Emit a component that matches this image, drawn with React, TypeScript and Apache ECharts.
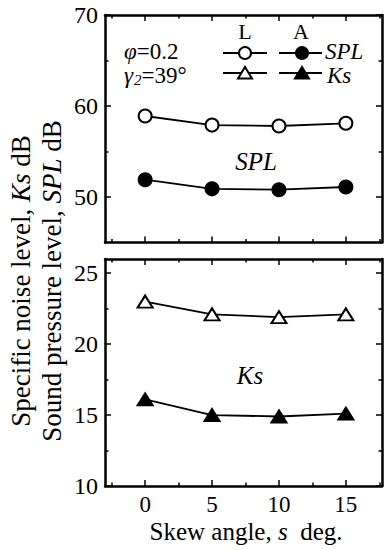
import React, { useEffect, useRef } from "react";
import * as echarts from "echarts";

const skewAngles = [0, 5, 10, 15];
const splL = [58.9, 57.9, 57.8, 58.1];
const splA = [51.9, 50.9, 50.8, 51.1];
const ksL = [23.0, 22.1, 21.9, 22.1];
const ksA = [16.1, 15.0, 14.9, 15.1];

const xMajorTicks = [0, 5, 10, 15];
const xMinorTicks = [-2.5, 2.5, 7.5, 12.5, 17.5];
const splMajorTicks = [50, 60, 70];
const splMinorTicks = [55, 65];
const ksMajorTicks = [10, 15, 20, 25];
const ksMinorTicks = [12.5, 17.5, 22.5];

const FONT = "Liberation Serif";

export default function App() {
  const ref = useRef<HTMLDivElement>(null);
  useEffect(() => {
    if (!ref.current) return;
    const chart = echarts.init(ref.current, null, { renderer: "svg" });
    const AXW = 2.5;
    const TW = 1.5;

    const xAxes: any[] = [];
    const yAxes: any[] = [];
    const grids = [
      { left: 105, top: 15, width: 277, height: 227.5 },
      { left: 105, top: 259, width: 277, height: 227 },
    ];
    const yRanges = [
      { min: 45, max: 70, major: splMajorTicks, minor: splMinorTicks },
      { min: 10, max: 26, major: ksMajorTicks, minor: ksMinorTicks },
    ];

    const mkX = (g: number, position: string, major: boolean, labels: boolean, line: boolean) => ({
      type: "value",
      gridIndex: g,
      position,
      min: -3,
      max: 17.7,
      axisLine: { show: line, onZero: false, lineStyle: { color: "#000", width: AXW } },
      axisTick: {
        show: true,
        inside: true,
        length: major ? 6 : 3.5,
        customValues: major ? xMajorTicks : xMinorTicks,
        lineStyle: { color: "#000", width: TW },
      },
      axisLabel: labels
        ? { show: true, customValues: xMajorTicks, fontFamily: FONT, fontSize: 23, color: "#000", margin: 7 }
        : { show: false },
      splitLine: { show: false },
    });
    const mkY = (g: number, position: string, major: boolean, labels: boolean, line: boolean) => ({
      type: "value",
      gridIndex: g,
      position,
      min: yRanges[g].min,
      max: yRanges[g].max,
      axisLine: { show: line, onZero: false, lineStyle: { color: "#000", width: AXW } },
      axisTick: {
        show: true,
        inside: true,
        length: major ? 6 : 3.5,
        customValues: major ? yRanges[g].major : yRanges[g].minor,
        lineStyle: { color: "#000", width: TW },
      },
      axisLabel: labels
        ? { show: true, customValues: yRanges[g].major, fontFamily: FONT, fontSize: 24, color: "#000", margin: 7 }
        : { show: false },
      splitLine: { show: false },
    });

    for (let g = 0; g < 2; g++) {
      xAxes.push(mkX(g, "bottom", true, g === 1, true));
      xAxes.push(mkX(g, "bottom", false, false, false));
      xAxes.push(mkX(g, "top", true, false, true));
      xAxes.push(mkX(g, "top", false, false, false));
      yAxes.push(mkY(g, "left", true, true, true));
      yAxes.push(mkY(g, "left", false, false, false));
      yAxes.push(mkY(g, "right", true, false, true));
      yAxes.push(mkY(g, "right", false, false, false));
    }

    const mkSeries = (name: string, g: number, vals: number[], symbol: string, filled: boolean) => ({
      name,
      type: "line",
      xAxisIndex: 4 * g,
      yAxisIndex: 4 * g,
      data: skewAngles.map((x, i) => [x, vals[i]]),
      symbol,
      symbolSize: symbol === "triangle" ? [15, 12] : 13,
      showSymbol: true,
      lineStyle: { color: "#000", width: 1.8 },
      itemStyle: { color: filled ? "#000" : "#fff", borderColor: "#000", borderWidth: 2 },
      z: 3,
    });

    const text = (x: number, y: number, str: string, extra: any = {}) => ({
      type: "text",
      x,
      y,
      style: {
        text: str,
        fontFamily: FONT,
        fontSize: 23,
        fill: "#000",
        align: "center",
        verticalAlign: "middle",
        lineHeight: 18,
        ...extra,
      },
    });

    const legendRow = (y: number, shape: "circle" | "triangle") => {
      const els: any[] = [];
      const centers = [245, 302];
      const spans = [
        [223, 267],
        [279, 322],
      ];
      for (let k = 0; k < 2; k++) {
        els.push({
          type: "line",
          shape: { x1: spans[k][0], y1: y, x2: spans[k][1], y2: y },
          style: { stroke: "#000", lineWidth: 1.8 },
        });
        const fill = k === 0 ? "#fff" : "#000";
        if (shape === "circle") {
          els.push({
            type: "circle",
            shape: { cx: centers[k], cy: y, r: 6 },
            style: { fill, stroke: "#000", lineWidth: 2 },
            z: 10,
          });
        } else {
          const c = centers[k];
          els.push({
            type: "polygon",
            shape: { points: [[c, y - 6], [c + 7, y + 5.5], [c - 7, y + 5.5]] },
            style: { fill, stroke: "#000", lineWidth: 2 },
            z: 10,
          });
        }
      }
      return els;
    };

    const richText = (x: number, y: number, str: string, rich: any, extra: any = {}) => ({
      type: "text",
      x,
      y,
      ...extra,
      style: {
        text: str,
        fontFamily: FONT,
        fontSize: 23,
        fill: "#000",
        align: extra.align || "center",
        verticalAlign: "middle",
        rich,
      },
    });

    const R = (size: number, lh: number, italic = false, extra: any = {}) => ({
      fontFamily: FONT,
      fontSize: size,
      fontStyle: italic ? "italic" : "normal",
      fill: "#000",
      lineHeight: lh,
      ...extra,
    });

    const option: any = {
      animation: false,
      backgroundColor: "#fff",
      grid: grids,
      xAxis: xAxes,
      yAxis: yAxes,
      series: [
        mkSeries("SPL L", 0, splL, "circle", false),
        mkSeries("SPL A", 0, splA, "circle", true),
        mkSeries("Ks L", 1, ksL, "triangle", false),
        mkSeries("Ks A", 1, ksA, "triangle", true),
      ],
      graphic: [
        text(245, 31, "L", { fontSize: 22 }),
        text(301, 31, "A", { fontSize: 22 }),
        ...legendRow(53, "circle"),
        ...legendRow(73, "triangle"),
        text(325, 51, "SPL", { align: "left", fontStyle: "italic" }),
        text(327, 75, "Ks", { align: "left", fontStyle: "italic" }),
        richText(124, 51, "{i|φ}{n|=0.2}", { i: R(23, 18, true), n: R(23, 18) }, { align: "left" }),
        richText(
          124,
          75,
          "{i|γ}{s|2}{n|=39°}",
          {
            i: R(23, 18, true),
            s: R(15, 18, true, { padding: [9, 0, 0, 1] }),
            n: R(23, 18),
          },
          { align: "left" }
        ),
        text(256, 161, "SPL", { fontStyle: "italic", fontSize: 25 }),
        text(250, 375, "Ks", { fontStyle: "italic", fontSize: 25 }),
        richText(246, 531, "{n|Skew angle, }{i|s}{n|  deg.}", { n: R(25, 20), i: R(25, 20, true) }),
        richText(
          21,
          281,
          "{n|Specific noise level, }{i|Ks}{n| dB}",
          { n: R(27, 22), i: R(27, 22, true) },
          { rotation: Math.PI / 2 }
        ),
        richText(
          52,
          281,
          "{n|Sound pressure level, }{i|SPL}{n| dB}",
          { n: R(27, 22), i: R(27, 22, true) },
          { rotation: Math.PI / 2 }
        ),
      ],
    };
    chart.setOption(option);
    return () => chart.dispose();
  }, []);
  return (
    <div
      ref={ref}
      style={{ position: "absolute", left: 0, top: 0, width: 387, height: 550, background: "#fff" }}
    />
  );
}
